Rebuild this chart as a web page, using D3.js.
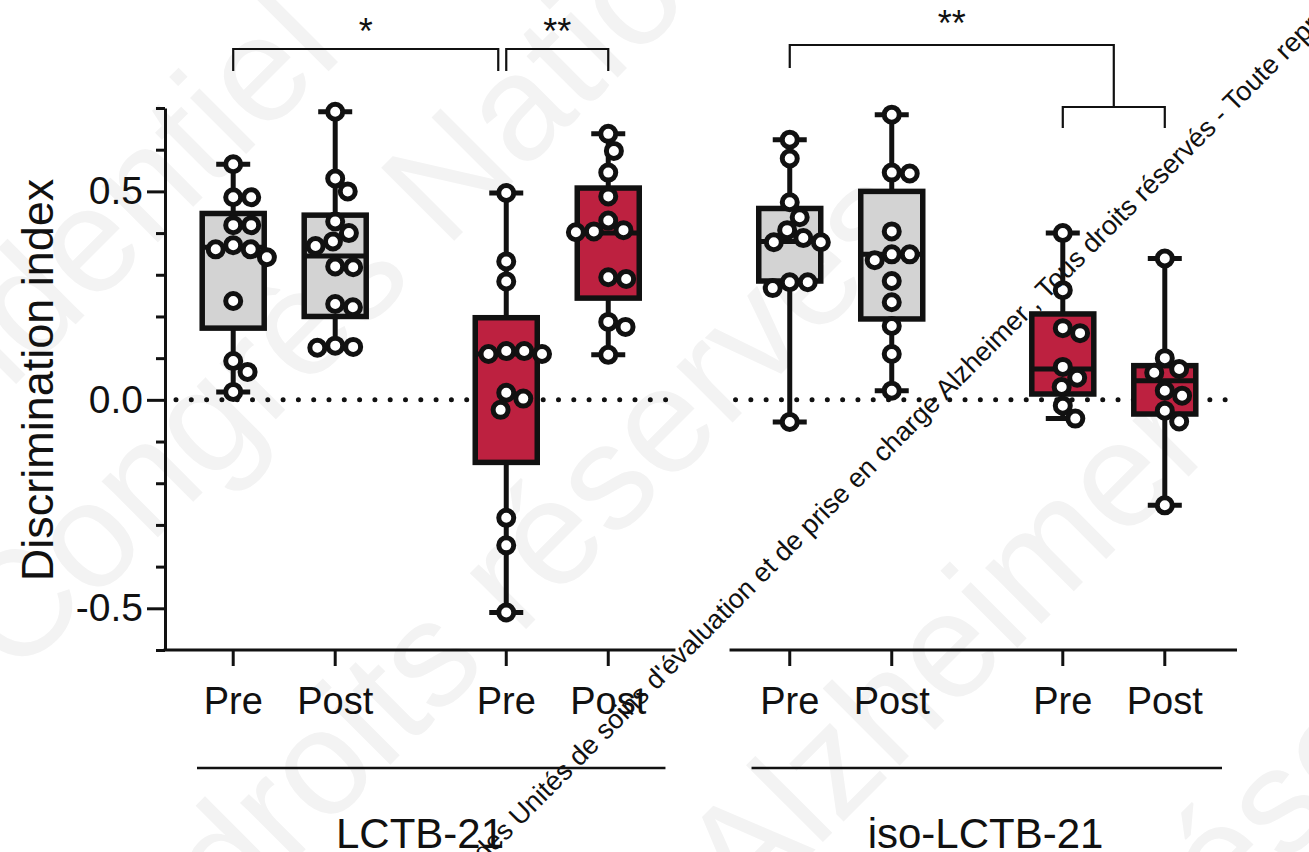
<!DOCTYPE html>
<html>
<head>
<meta charset="utf-8">
<script src="https://cdn.jsdelivr.net/npm/d3@7"></script>
<style>
body{margin:0;background:#fff;}
text{font-family:"Liberation Sans",Arial,sans-serif;}
</style>
</head>
<body>
<script>
var width=1309;
var height=852;

// categories
var panels=["LCTB-21","iso-LCTB-21"];
var conds=["grey","red"];
var phases=["Pre","Post"];

var groupPanel=["LCTB-21","LCTB-21","LCTB-21","LCTB-21","iso-LCTB-21","iso-LCTB-21","iso-LCTB-21","iso-LCTB-21"];
var groupCond=["grey","grey","red","red","grey","grey","red","red"];
var groupPhase=["Pre","Post","Pre","Post","Pre","Post","Pre","Post"];

// individual values
var lctbGreyPre=[0.565,0.486,0.486,0.419,0.419,0.371,0.361,0.361,0.342,0.237,0.093,0.067,0.019];
var lctbGreyPost=[0.691,0.531,0.5,0.428,0.40,0.38,0.369,0.32,0.318,0.23,0.222,0.13,0.127,0.125];
var lctbRedPre=[0.496,0.332,0.284,0.117,0.11,0.11,0.117,0.017,0.003,-0.024,-0.283,-0.349,-0.51];
var lctbRedPost=[0.638,0.597,0.545,0.488,0.43,0.407,0.404,0.402,0.294,0.29,0.187,0.175,0.108];
var isoGreyPre=[0.624,0.579,0.474,0.438,0.407,0.388,0.378,0.378,0.282,0.282,0.268,-0.053];
var isoGreyPost=[0.684,0.545,0.543,0.404,0.349,0.349,0.335,0.285,0.234,0.177,0.11,0.022];
var isoRedPre=[0.4,0.263,0.172,0.16,0.079,0.053,0.031,-0.014,-0.045];
var isoRedPost=[0.339,0.1,0.074,0.065,0.022,0.01,-0.026,-0.052,-0.253];
var values=[lctbGreyPre,lctbGreyPost,lctbRedPre,lctbRedPost,isoGreyPre,isoGreyPost,isoRedPre,isoRedPost];

// box statistics
var q1=[0.172,0.2,-0.15,0.244,0.285,0.194,0.014,-0.034];
var median=[0.366,0.345,0.11,0.40,0.38,0.349,0.074,0.046];
var q3=[0.447,0.443,0.197,0.508,0.459,0.5,0.206,0.082];

// axis ticks
var yMajor=[-0.5,0,0.5];
var yMinor=[-0.6,-0.4,-0.3,-0.2,-0.1,0.1,0.2,0.3,0.4,0.6,0.7];

// significance marks
var sigLabels=["*","**","**"];

var colors={grey:"#d3d3d3",red:"#bd2140"};
var ink="#111";

var svg=d3.select("body").append("svg").attr("width",width).attr("height",height);

// faint background watermark
var wm=svg.append("g").attr("fill","#f3f3f3").attr("font-size","150px");
wm.append("text").attr("transform","translate(345,55) rotate(-45)").attr("text-anchor","end").text("Confidentiel");
wm.append("text").attr("transform","translate(15,680) rotate(-45)").text("Congrès National");
wm.append("text").attr("transform","translate(230,925) rotate(-45)").text("droits réservés");
wm.append("text").attr("transform","translate(745,920) rotate(-45)").text("Alzheimer");
wm.append("text").attr("transform","translate(1190,960) rotate(-45)").text("réservés");

var y=d3.scaleLinear().domain([-0.6,0.7]).range([650,108]);
var panelX=d3.scaleBand().domain(panels).range([165,1233]).paddingInner(0.081).paddingOuter(0);
var condX=d3.scalePoint().domain(conds).range([0,panelX.bandwidth()]).padding(0.4366);
var phaseX=d3.scalePoint().domain(phases).range([-51,51]);

function gx(i){
    return panelX(groupPanel[i])+condX(groupCond[i])+phaseX(groupPhase[i]);
}

// y axis
var axMinor=d3.axisLeft(y).tickValues(yMinor).tickSize(9).tickSizeOuter(0).tickFormat("");
var axMajor=d3.axisLeft(y).tickValues(yMajor).tickSize(18).tickSizeOuter(0).tickPadding(4)
    .tickFormat(function(d){return d.toFixed(1);});
var gy1=svg.append("g").attr("transform","translate(165,0)").call(axMinor);
var gy2=svg.append("g").attr("transform","translate(165,0)").call(axMajor);
gy2.select(".domain").remove();
svg.selectAll(".domain,.tick line").attr("stroke",ink).attr("stroke-width",3);
gy2.selectAll(".tick text").attr("font-size","39px").attr("fill",ink)
    .attr("font-family","Liberation Sans,Arial,sans-serif");

svg.append("text")
    .attr("transform","translate(53,380) rotate(-90)")
    .attr("text-anchor","middle")
    .attr("font-size","45px")
    .attr("fill",ink)
    .text("Discrimination index");

// x axes per panel
panels.forEach(function(p,k){
    var x0=panelX(p);
    var x1=x0+panelX.bandwidth();
    svg.append("line").attr("x1",k==0?163.5:x0+8).attr("x2",k==0?x1-1:x1+4)
        .attr("y1",650).attr("y2",650).attr("stroke",ink).attr("stroke-width",3);
    // zero line
    svg.append("line").attr("x1",x0+(k==0?11:14)).attr("x2",x1-2)
        .attr("y1",y(0)).attr("y2",y(0))
        .attr("stroke",ink).attr("stroke-width",5).attr("stroke-linecap","round")
        .attr("stroke-dasharray","0,15.3");
    svg.append("line").attr("x1",x0+(k==0?32:30)).attr("x2",x1-11)
        .attr("y1",768).attr("y2",768).attr("stroke",ink).attr("stroke-width",2.5);
    svg.append("text").attr("x",k==0?x0+255:x0+264).attr("y",848)
        .attr("text-anchor","middle").attr("font-size","42px").attr("fill",ink).text(p);
});

var idx=d3.range(values.length);
svg.selectAll(".xtick").data(idx).enter().append("line")
    .attr("class","xtick")
    .attr("x1",gx).attr("x2",gx).attr("y1",650).attr("y2",666)
    .attr("stroke",ink).attr("stroke-width",3);
svg.selectAll(".xlab").data(idx).enter().append("text")
    .attr("class","xlab")
    .attr("x",gx).attr("y",714)
    .attr("text-anchor","middle").attr("font-size","38px").attr("fill",ink)
    .text(function(i){return groupPhase[i];});

// boxes
var boxW=62, capW=17, sw=5;
var boxes=svg.selectAll(".box").data(idx).enter().append("g").attr("class","box")
    .attr("transform",function(i){return "translate("+gx(i)+",0)";});
boxes.append("line")
    .attr("x1",0).attr("x2",0)
    .attr("y1",function(i){return y(d3.max(values[i]));})
    .attr("y2",function(i){return y(d3.min(values[i]));})
    .attr("stroke",ink).attr("stroke-width",sw);
boxes.append("line").attr("x1",-capW).attr("x2",capW)
    .attr("y1",function(i){return y(d3.max(values[i]));})
    .attr("y2",function(i){return y(d3.max(values[i]));})
    .attr("stroke",ink).attr("stroke-width",sw);
boxes.append("line").attr("x1",-capW).attr("x2",capW)
    .attr("y1",function(i){return y(d3.min(values[i]));})
    .attr("y2",function(i){return y(d3.min(values[i]));})
    .attr("stroke",ink).attr("stroke-width",sw);
boxes.append("rect")
    .attr("x",-boxW/2).attr("width",boxW)
    .attr("y",function(i){return y(q3[i]);})
    .attr("height",function(i){return y(q1[i])-y(q3[i]);})
    .attr("fill",function(i){return colors[groupCond[i]];})
    .attr("stroke",ink).attr("stroke-width",5.5);
boxes.append("line").attr("x1",-boxW/2).attr("x2",boxW/2)
    .attr("y1",function(i){return y(median[i]);})
    .attr("y2",function(i){return y(median[i]);})
    .attr("stroke",ink).attr("stroke-width",5);

// swarm layout for points
function swarm(vals,d){
    var pts=vals.map(function(v){return {v:v,y:y(v),x:0};}).sort(function(a,b){return a.y-b.y;});
    var placed=[];
    pts.forEach(function(p){
        var cands=[0];
        placed.forEach(function(q){
            var dy=p.y-q.y;
            if(Math.abs(dy)<d){
                var dx=Math.sqrt(d*d-dy*dy);
                cands.push(q.x+dx,q.x-dx);
            }
        });
        cands.sort(function(a,b){return Math.abs(a)-Math.abs(b);});
        for(var c=0;c<cands.length;c++){
            var ok=placed.every(function(q){
                return (cands[c]-q.x)*(cands[c]-q.x)+(p.y-q.y)*(p.y-q.y)>=d*d-0.5;
            });
            if(ok){p.x=cands[c];break;}
        }
        placed.push(p);
    });
    return placed;
}

boxes.each(function(i){
    d3.select(this).selectAll("circle").data(swarm(values[i],18)).enter().append("circle")
        .attr("cx",function(p){return p.x;})
        .attr("cy",function(p){return p.y;})
        .attr("r",7.5)
        .attr("fill","#fff")
        .attr("stroke",ink).attr("stroke-width",5);
});

// significance brackets
var br=svg.append("g").attr("fill","none").attr("stroke",ink).attr("stroke-width",2.2);
br.append("path").attr("d","M"+gx(0)+",71V49H"+(gx(2)-8)+"V71");
br.append("path").attr("d","M"+gx(2)+",71V49H"+gx(3)+"V71");
var subMid=(gx(6)+gx(7))/2;
br.append("path").attr("d","M"+gx(4)+",68V45H"+subMid+"V107");
br.append("path").attr("d","M"+gx(6)+",128V107H"+gx(7)+"V128");

var starX=[(gx(0)+gx(2)-8)/2,(gx(2)+gx(3))/2,(gx(4)+subMid)/2];
var starY=[44,44,36];
svg.selectAll(".sig").data(sigLabels).enter().append("text")
    .attr("class","sig")
    .attr("x",function(d,i){return starX[i];})
    .attr("y",function(d,i){return starY[i];})
    .attr("text-anchor","middle").attr("font-size","36px").attr("fill",ink)
    .text(function(d){return d;});

// diagonal copyright line
var note="des Unités de soins d'évaluation et de prise en charge Alzheimer , Tous droits réservés - Toute reproduction interdite";
svg.append("text")
    .attr("x",0).attr("y",0)
    .attr("transform","translate(484,863) rotate(-45)")
    .attr("font-size","27px").attr("fill",ink)
    .text(note);
</script>
</body>
</html>
